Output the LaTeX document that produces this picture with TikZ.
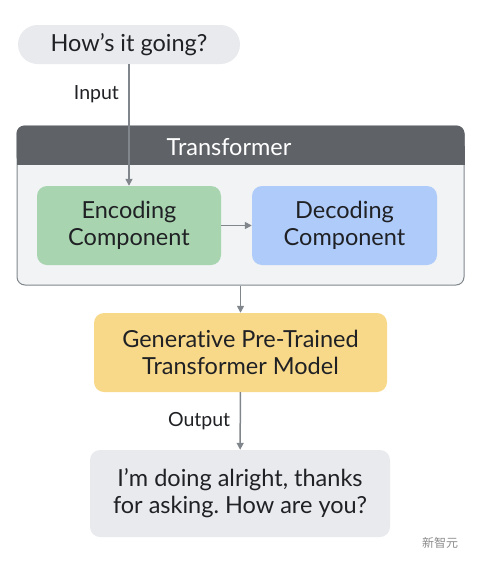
\documentclass[tikz,border=0pt]{standalone}
\usepackage{fontspec}
\setmainfont{Lato}[Ligatures=NoCommon]
\newfontfamily\cjkfont{Noto Sans CJK SC}
\usepackage{xcolor}
\usetikzlibrary{arrows.meta,positioning}
\frenchspacing

\definecolor{bubble}{HTML}{E8EAED}
\definecolor{hdrgray}{HTML}{5F6368}
\definecolor{bodygray}{HTML}{F1F3F4}
\definecolor{edgegray}{HTML}{80868B}
\definecolor{encgreen}{HTML}{A8D5B0}
\definecolor{decblue}{HTML}{AECBFA}
\definecolor{gptyellow}{HTML}{F8D98A}
\definecolor{inkgray}{HTML}{202124}

\begin{document}
\begin{tikzpicture}[
  x=1pt, y=-1pt,
  box/.style={rounded corners=10pt, align=center, text=inkgray, font=\fontsize{23.5}{27}\selectfont, inner sep=0pt},
  arr/.style={-{Triangle[length=7pt, width=7pt]}, line width=1.5pt, edgegray},
  lbl/.style={font=\fontsize{19.5}{22}\selectfont, text=inkgray}
]
  \useasboundingbox (0,0) rectangle (480,563);

  % Question bubble
  \node[box, fill=bubble, rounded corners=19.5pt, minimum width=222pt, minimum height=39pt] (ask) at (129,44.5) {How’s it going?};

  % Transformer block
  \node[fill=bodygray, draw=edgegray, line width=1pt, rounded corners=8pt, minimum width=447pt, minimum height=159pt, inner sep=0pt] (trans) at (240.5,205.5) {};
  \fill[hdrgray, rounded corners=8pt] (trans.north west) rectangle ([yshift=-39pt]trans.north east);
  \fill[hdrgray] ([yshift=-20pt]trans.north west) rectangle ([yshift=-39pt]trans.north east);
  \node[font=\fontsize{23.5}{27}\selectfont, text=white] (thead) at (229,147) {Transformer};

  \node[box, fill=encgreen, minimum width=184pt, minimum height=79pt] (enc) at (129,225.5) {Encoding\\Component};
  \node[box, fill=decblue, minimum width=185pt, minimum height=79pt] (dec) at (344.5,225.5) {Decoding\\Component};

  % Model and answer
  \node[box, fill=gptyellow, minimum width=293pt, minimum height=79pt] (gpt) at (240.5,352.5) {Generative Pre-Trained\\Transformer Model};
  \node[box, fill=bubble, minimum width=300pt, minimum height=87pt] (ans) at (240,493.5) {I’m doing alright, thanks\\for asking. How are you?};

  % Connectors
  \draw[arr] (ask) -- (enc) node[lbl, pos=0.25, left=6pt] {Input};
  \draw[arr] (enc) -- (dec);
  \draw[arr] (trans) -- (gpt);
  \draw[arr] (gpt) -- (ans) node[lbl, midway, left=6pt] {Output};

  % Watermark
  \node[font=\cjkfont\fontsize{12}{14}\selectfont, text=black!45] (mark) at (440,543) {新智元};
\end{tikzpicture}
\end{document}
